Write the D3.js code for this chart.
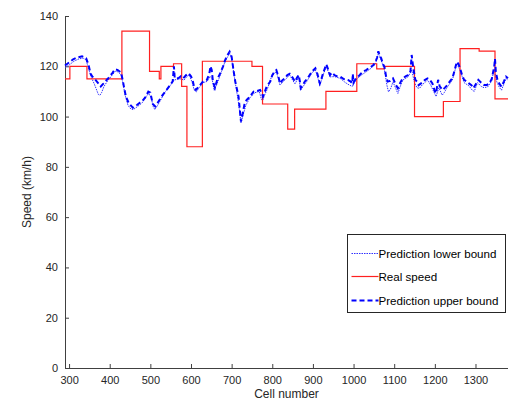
<!DOCTYPE html>
<html>
<head>
<meta charset="utf-8">
<script src="https://cdn.jsdelivr.net/npm/d3@7"></script>
<style>
  body { margin: 0; background: #fff; }
  svg { display: block; font-family: "Liberation Sans", Arial, sans-serif; }
  .axis text { font-size: 11px; fill: #262626; }
  .axis path, .axis line { stroke: #404040; }
</style>
</head>
<body>
<script>
const xTicks = [300, 400, 500, 600, 700, 800, 900, 1000, 1100, 1200, 1300];
const yTicks = [0, 20, 40, 60, 80, 100, 120, 140];

// real speed, step function: [cell, km/h] held until next cell
const realSpeed = [
  [290,115],[302,120],[344,115],[430,134],[498,118],[522,115],[526,120],[557,121],
  [577,112],[590,88],[628,122],[750,120],[776,105],[838,95],[855,103],[932,110],
  [1008,121],[1057,119],[1076,120],[1150,100],[1221,106],[1262,127],[1309,126],
  [1348,107],[1380,107]
];

// prediction upper bound
const upperBound = [
  [290,120.3],[300,121.5],[310,122.8],[320,123.5],[332,124.0],[342,123.2],[348,120.5],[353,117],
  [357,116],[365,114.6],[372,113.2],[378,112],[385,113.2],[396,115.2],[406,117.2],[413,118.8],
  [420,118.5],[428,117.5],[432,114.5],[436,111],[440,107.9],[447,105.3],[457,103.5],[467,104.6],
  [474,105.5],[480,106.2],[487,107.5],[495,109.9],[500,109.5],[506,105],[512,104],[518,105.5],
  [524,107],[530,108.5],[540,110.6],[549,112.6],[555,114],[558,120],[560,115.2],[569,115.2],
  [575,116],[581,115.2],[588,116.5],[594,117.2],[600,116],[604,114.5],[608,111.5],[612,110.6],
  [621,112.3],[630,114],[639,114.6],[645,117],[648,120],[651,118.5],[654,114],[659,111.5],
  [665,115],[672,117.2],[679,120],[684,122.5],[690,124.5],[695,125.8],[700,123.8],[705,118],
  [709,113.9],[713,111],[717,107.9],[720,103],[723,98],[727,101],[732,105.3],[737,106.6],
  [745,107.9],[754,109.9],[763,110.2],[770,110.6],[775,109],[777,107.9],[782,110],[786,111.9],
  [795,113.9],[800,116.5],[806,118],[810,118.5],[815,116],[819,113.2],[825,114.5],[831,115.2],
  [837,116.5],[843,117],[850,115.5],[856,113.9],[861,115.5],[865,116.5],[868,114],[870,111.3],
  [875,112.5],[880,113.9],[886,115],[892,116.5],[898,118],[906,119.2],[911,117],[917,113.2],
  [921,115],[925,117.2],[930,119.5],[933,120.8],[937,119],[942,116.5],[947,117.5],[953,116.5],
  [960,116],[967,115.9],[975,115],[986,114.6],[992,114],[997,113.2],[998,117],[1000,113.5],
  [1006,115.2],[1012,116],[1019,117.2],[1025,118],[1031,118.5],[1037,119.2],[1043,119.8],[1049,120.5],
  [1054,121.8],[1058,123.5],[1061,126],[1065,124],[1068,123.2],[1072,121],[1076,119.8],[1080,116],
  [1084,113.9],[1090,114.2],[1097,115.2],[1103,113],[1109,111.3],[1115,113.5],[1121,115.2],[1128,116],
  [1134,116.5],[1140,118],[1143,124.5],[1147,119.2],[1152,114.6],[1156,113.9],[1160,112.5],[1166,113.2],
  [1175,114.5],[1182,115.2],[1188,114.5],[1194,113.2],[1200,110],[1203,109.3],[1208,114.6],[1212,112],
  [1219,110.6],[1225,111.5],[1231,112.6],[1237,114],[1243,115.2],[1248,118],[1254,121.8],[1258,121],
  [1262,119.2],[1267,116.5],[1272,114.6],[1278,114],[1284,113.2],[1290,112.5],[1295,111.3],[1301,113],
  [1307,114.6],[1314,113.5],[1321,112.6],[1328,112.6],[1334,113.2],[1340,115],[1346,119.8],[1348,123],
  [1350,118],[1354,114.6],[1359,113],[1364,111.9],[1370,114],[1375,115.9],[1380,115.2]
];

// prediction lower bound
const lowerBound = [
  [290,119.5],[300,120.5],[312,122],[325,123],[335,123.2],[342,122.5],[348,119],[355,115.5],
  [362,113],[368,110.5],[372,108.8],[376,108.5],[380,109.5],[386,112],[396,114.5],[406,116.5],
  [414,118],[420,117.8],[428,116.5],[433,113],[438,108.5],[445,104.5],[452,103],[458,102.8],
  [467,103.8],[480,105.5],[490,108],[496,109.2],[502,107.5],[507,104],[511,102.8],[518,104.5],
  [525,106.5],[535,109.5],[545,111.5],[552,113],[558,114.5],[565,114.8],[575,115],[583,114.5],
  [590,116],[596,116.5],[603,113.5],[608,110.5],[613,109.8],[620,111.5],[630,113.5],[640,114],
  [647,116],[652,115],[657,110.4],[663,112.5],[672,116.5],[684,122],[695,125.2],[700,123],
  [706,116.5],[711,111.5],[716,106.5],[720,101.5],[723,97.5],[728,100.5],[735,104.5],[745,107.5],
  [757,109.5],[768,110],[773,107],[776,106.3],[781,108.5],[788,111],[798,115.8],[810,118],
  [815,115],[819,112.5],[831,114.6],[843,116.5],[850,114.5],[856,113],[865,115.8],[870,110.5],
  [875,111.8],[885,114],[898,117.5],[906,118.6],[912,115.5],[917,112.4],[925,116.5],[933,120],
  [942,115.8],[953,115.9],[967,115.2],[980,113.5],[990,112.5],[997,112],[1005,114.5],[1019,116.5],
  [1031,117.8],[1043,119.2],[1054,121],[1061,125.2],[1068,122.5],[1076,118.5],[1082,112.5],[1086,109.8],
  [1091,111],[1097,113.8],[1103,111.5],[1109,109.2],[1115,112],[1121,114.5],[1134,115.8],[1143,118.5],
  [1150,113.5],[1156,111.5],[1162,111.2],[1170,112.8],[1182,114.5],[1190,112.5],[1197,110],[1203,108],
  [1210,111.5],[1218,108.5],[1223,109.5],[1231,111.8],[1243,114.5],[1254,121],[1262,118.5],[1272,113.5],
  [1284,112.2],[1292,110.5],[1297,110],[1305,113.5],[1314,112],[1321,111.5],[1330,111.8],[1340,114.2],
  [1346,119],[1352,114],[1359,111.5],[1364,110.5],[1370,113],[1375,115.2],[1380,114.5]
];

const legendLabels = ["Prediction lower bound", "Real speed", "Prediction upper bound"];

const width = 509, height = 402;
const plotLeft = 65, plotRight = 508, plotTop = 16, plotBottom = 368;

const svg = d3.select('body').append('svg')
  .attr('width', width)
  .attr('height', height);

const x = d3.scaleLinear().domain([290, 1380]).range([plotLeft, plotRight]);
const y = d3.scaleLinear().domain([0, 140]).range([plotBottom, plotTop]);

// axes, MATLAB style ticks pointing inward
svg.append('g')
  .attr('class', 'axis')
  .attr('transform', `translate(0,${plotBottom})`)
  .call(d3.axisBottom(x).tickValues(xTicks).tickFormat(d3.format('d'))
    .tickSize(-4).tickSizeOuter(0).tickPadding(8))
  .call(g => g.select('.domain').attr('d', `M${plotLeft},0.5H${plotRight}`));

svg.append('g')
  .attr('class', 'axis')
  .attr('transform', `translate(${plotLeft},0)`)
  .call(d3.axisLeft(y).tickValues(yTicks).tickSize(-4).tickSizeOuter(0).tickPadding(7))
  .call(g => g.select('.domain').attr('d', `M0.5,${plotTop}V${plotBottom}`));

const line = d3.line().x(d => x(d[0])).y(d => y(d[1]));
const stepLine = d3.line().x(d => x(d[0])).y(d => y(d[1])).curve(d3.curveStepAfter);

svg.append('path')
  .datum(lowerBound)
  .attr('d', line)
  .attr('fill', 'none')
  .attr('stroke', '#3030ff')
  .attr('stroke-width', 1)
  .attr('stroke-dasharray', '1.5,1');

svg.append('path')
  .datum(realSpeed)
  .attr('d', stepLine)
  .attr('fill', 'none')
  .attr('stroke', '#ff2020')
  .attr('stroke-width', 1.2);

svg.append('path')
  .datum(upperBound)
  .attr('d', line)
  .attr('fill', 'none')
  .attr('stroke', '#0000ff')
  .attr('stroke-width', 2)
  .attr('stroke-dasharray', '5,3');

// axis titles
svg.append('text')
  .attr('x', (plotLeft + plotRight) / 2)
  .attr('y', 398)
  .attr('text-anchor', 'middle')
  .style('font-size', '12px')
  .style('fill', '#262626')
  .text('Cell number');

svg.append('text')
  .attr('transform', `translate(31,${(plotTop + plotBottom) / 2}) rotate(-90)`)
  .attr('text-anchor', 'middle')
  .style('font-size', '12px')
  .style('fill', '#262626')
  .text('Speed (km/h)');

// legend
const legend = svg.append('g').attr('transform', 'translate(347.5,234.5)');
legend.append('rect')
  .attr('width', 158)
  .attr('height', 78)
  .attr('fill', '#fff')
  .attr('stroke', '#262626')
  .attr('stroke-width', 1);

const styles = [
  { color: '#3030ff', w: 1, dash: '1.5,1' },
  { color: '#ff2020', w: 1.2, dash: null },
  { color: '#0000ff', w: 2, dash: '5,3' }
];
const rowY = [19, 42, 66];

legendLabels.forEach((label, i) => {
  legend.append('line')
    .attr('x1', 4).attr('x2', 31)
    .attr('y1', rowY[i]).attr('y2', rowY[i])
    .attr('stroke', styles[i].color)
    .attr('stroke-width', styles[i].w)
    .attr('stroke-dasharray', styles[i].dash);
  legend.append('text')
    .attr('x', 31)
    .attr('y', rowY[i])
    .attr('dy', '0.35em')
    .style('font-size', '11.6px')
    .style('fill', '#000')
    .text(label);
});
</script>
</body>
</html>
